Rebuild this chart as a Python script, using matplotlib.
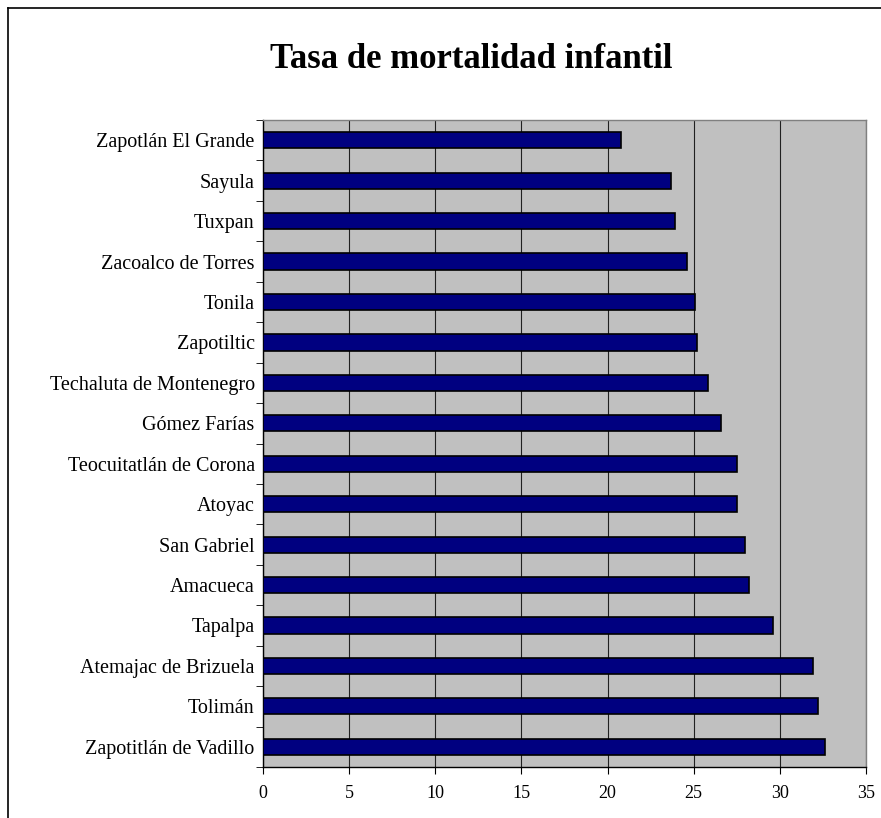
import numpy as np
import matplotlib.pyplot as plt
from matplotlib.lines import Line2D

# Datos (de arriba hacia abajo)
municipios = ['Zapotlán El Grande', 'Sayula', 'Tuxpan', 'Zacoalco de Torres',
              'Tonila', 'Zapotiltic', 'Techaluta de Montenegro', 'Gómez Farías',
              'Teocuitatlán de Corona', 'Atoyac', 'San Gabriel', 'Amacueca',
              'Tapalpa', 'Atemajac de Brizuela', 'Tolimán', 'Zapotitlán de Vadillo']
tasas = [20.8, 23.7, 23.9, 24.6, 25.1, 25.2, 25.8, 26.6,
         27.5, 27.5, 28.0, 28.2, 29.6, 31.9, 32.2, 32.6]
x_ticks = [0, 5, 10, 15, 20, 25, 30, 35]

plt.rcParams['font.family'] = ['Liberation Serif', 'DejaVu Serif']

fig = plt.figure(figsize=(8.81, 8.18), dpi=100)
ax = fig.add_axes([0.2985, 0.0623, 0.6845, 0.7910])

y = np.arange(len(municipios))
ax.set_facecolor('#C0C0C0')
ax.barh(y, tasas, height=0.4, color='#000080', edgecolor='black', linewidth=1.2, zorder=3)

ax.set_xlim(0, 35)
ax.set_ylim(len(municipios) - 0.5, -0.5)
ax.set_xticks(x_ticks)
ax.set_xticklabels([str(v) for v in x_ticks], fontsize=13)
ax.set_yticks(y)
ax.set_yticklabels(municipios, fontsize=14.5)
ax.set_yticks(np.arange(len(municipios) + 1) - 0.5, minor=True)
ax.tick_params(axis='y', which='major', length=0, pad=6)
ax.tick_params(axis='y', which='minor', length=5, direction='out', color='black')
ax.tick_params(axis='x', length=5, direction='out', color='black', pad=8)

ax.grid(axis='x', color='#202020', linewidth=0.8, zorder=1)
ax.set_axisbelow(True)

ax.spines['left'].set_color('black')
ax.spines['bottom'].set_color('black')
ax.spines['top'].set_color('#808080')
ax.spines['right'].set_color('#808080')
for s in ax.spines.values():
    s.set_linewidth(1)

fig.text(0.535, 0.927, 'Tasa de mortalidad infantil', ha='center', va='center',
         fontsize=25, fontweight='bold')

# Marco exterior del gráfico
fig.add_artist(Line2D([8 / 881, 8 / 881], [0, 1 - 8 / 818], color='black', lw=1.2))
fig.add_artist(Line2D([8 / 881, 1], [1 - 8 / 818, 1 - 8 / 818], color='black', lw=1.2))

plt.savefig('out.png', dpi=100)
